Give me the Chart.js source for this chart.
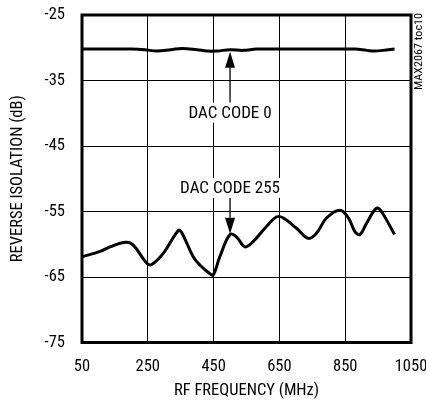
<!DOCTYPE html>
<html><head><meta charset="utf-8">
<script src="https://cdn.jsdelivr.net/npm/chart.js@4.4.1/dist/chart.umd.min.js"></script>
<style>html,body{margin:0;padding:0;background:#fff;}#wrap{width:426px;height:402px;}</style>
</head><body><div id="wrap"><canvas id="c" width="426" height="402"></canvas></div>
<script>
const FONT = "'Roboto Condensed','Liberation Sans Narrow','Arial Narrow',sans-serif";
const xTicks = [50, 250, 450, 650, 850, 1050];
const yTicks = [-75, -65, -55, -45, -35, -25];
const code0Freq = [50, 100, 150, 200, 240, 278, 320, 354, 400, 430, 460, 500, 540, 580, 620, 700, 800, 880, 916, 940, 965, 1000];
const code0Val  = [-30.2, -30.2, -30.2, -30.2, -30.3, -30.5, -30.3, -30.1, -30.3, -30.5, -30.5, -30.3, -30.4, -30.2, -30.2, -30.2, -30.2, -30.2, -30.4, -30.5, -30.4, -30.2];
const code255Freq = [50, 105, 135, 181, 205, 247, 262, 297, 343, 353, 388, 409, 439, 449, 469, 500, 520, 545, 570, 612, 642, 662, 703, 738, 763, 793, 834, 860, 880, 895, 915, 945, 960, 1000];
const code255Val  = [-61.9, -61.1, -60.4, -59.7, -60.1, -62.9, -63.1, -61.4, -57.9, -58.2, -61.9, -63.2, -64.5, -64.7, -61.9, -58.5, -58.9, -60.4, -59.6, -57.2, -55.8, -56.0, -57.6, -59.1, -58.3, -56.0, -54.8, -56.0, -58.1, -58.5, -56.8, -54.5, -55.0, -58.5];
const annotations = [
  {text: "DAC CODE 0", x: 500, textY: -39.9, tipY: -30.6, up: true},
  {text: "DAC CODE 255", x: 500, textY: -51.4, tipY: -58.4, up: false}
];
const watermark = "MAX2067 toc10";
const toPts = (xs, ys) => xs.map((x, i) => ({x: x, y: ys[i]}));

const framePlugin = {
  id: 'frame',
  afterDraw(chart) {
    const ctx = chart.ctx, a = chart.chartArea;
    const xs = chart.scales.x, ys = chart.scales.y;
    ctx.save();
    ctx.strokeStyle = '#000'; ctx.lineWidth = 3;
    ctx.strokeRect(a.left, a.top, a.right - a.left, a.bottom - a.top);
    ctx.font = "17px " + FONT;
    ctx.textAlign = 'center'; ctx.textBaseline = 'middle';
    annotations.forEach(an => {
      const px = xs.getPixelForValue(an.x);
      const ty = ys.getPixelForValue(an.textY);
      const tip = ys.getPixelForValue(an.tipY);
      const w = ctx.measureText(an.text).width;
      ctx.fillStyle = '#fff';
      ctx.fillRect(px - w/2 - 3, ty - 10, w + 6, 20);
      ctx.fillStyle = '#000';
      ctx.fillText(an.text, px, ty + 1);
      ctx.strokeStyle = '#000'; ctx.lineWidth = 1.3;
      const start = an.up ? ty - 10 : ty + 10;
      const headBase = an.up ? tip + 16 : tip - 16;
      ctx.beginPath(); ctx.moveTo(px, start); ctx.lineTo(px, headBase); ctx.stroke();
      ctx.beginPath();
      ctx.moveTo(px, tip); ctx.lineTo(px - 5, headBase); ctx.lineTo(px + 5, headBase); ctx.closePath(); ctx.fill();
    });
    ctx.font = "10px " + FONT;
    const ww = ctx.measureText(watermark).width;
    ctx.translate(419, a.top - 2);
    ctx.rotate(-Math.PI/2);
    ctx.scale(77 / ww, 1);
    ctx.textAlign = 'right'; ctx.textBaseline = 'middle';
    ctx.fillText(watermark, 0, 0);
    ctx.restore();
  }
};

new Chart(document.getElementById('c'), {
  type: 'line',
  data: {
    datasets: [
      {label: 'DAC CODE 0', data: toPts(code0Freq, code0Val), borderColor: '#000', borderWidth: 3, pointRadius: 0, tension: 0.4, fill: false},
      {label: 'DAC CODE 255', data: toPts(code255Freq, code255Val), borderColor: '#000', borderWidth: 3, pointRadius: 0, tension: 0.4, fill: false}
    ]
  },
  options: {
    responsive: false, animation: false,
    layout: {padding: {left: 0, right: 15, top: 15, bottom: 0}},
    plugins: {legend: {display: false}, tooltip: {enabled: false}},
    scales: {
      x: {
        type: 'linear', min: 50, max: 1050,
        afterBuildTicks: s => { s.ticks = xTicks.map(v => ({value: v})); },
        grid: {color: '#000', lineWidth: 1, drawTicks: false},
        border: {display: false},
        ticks: {color: '#000', font: {family: FONT, size: 16.5}, padding: 14, maxRotation: 0, autoSkip: false, callback: v => String(v)},
        title: {display: true, text: 'RF FREQUENCY (MHz)', color: '#000', font: {family: FONT, size: 16.5}, padding: {top: 0, bottom: 1}},
        afterFit: s => { s.height = 59.5; s.paddingLeft = 0; s.paddingRight = 0; }
      },
      y: {
        type: 'linear', min: -75, max: -25,
        afterBuildTicks: s => { s.ticks = yTicks.map(v => ({value: v})); },
        grid: {color: '#000', lineWidth: 1, drawTicks: false},
        border: {display: false},
        ticks: {color: '#000', font: {family: FONT, size: 16.5}, padding: 17, callback: v => String(v)},
        title: {display: true, text: 'REVERSE ISOLATION (dB)', color: '#000', font: {family: FONT, size: 16.5}, padding: {top: 8.4, bottom: 0}},
        afterFit: s => { s.width = 82; s.paddingTop = 0; s.paddingBottom = 0; }
      }
    }
  },
  plugins: [framePlugin]
});
</script>
</body></html>
